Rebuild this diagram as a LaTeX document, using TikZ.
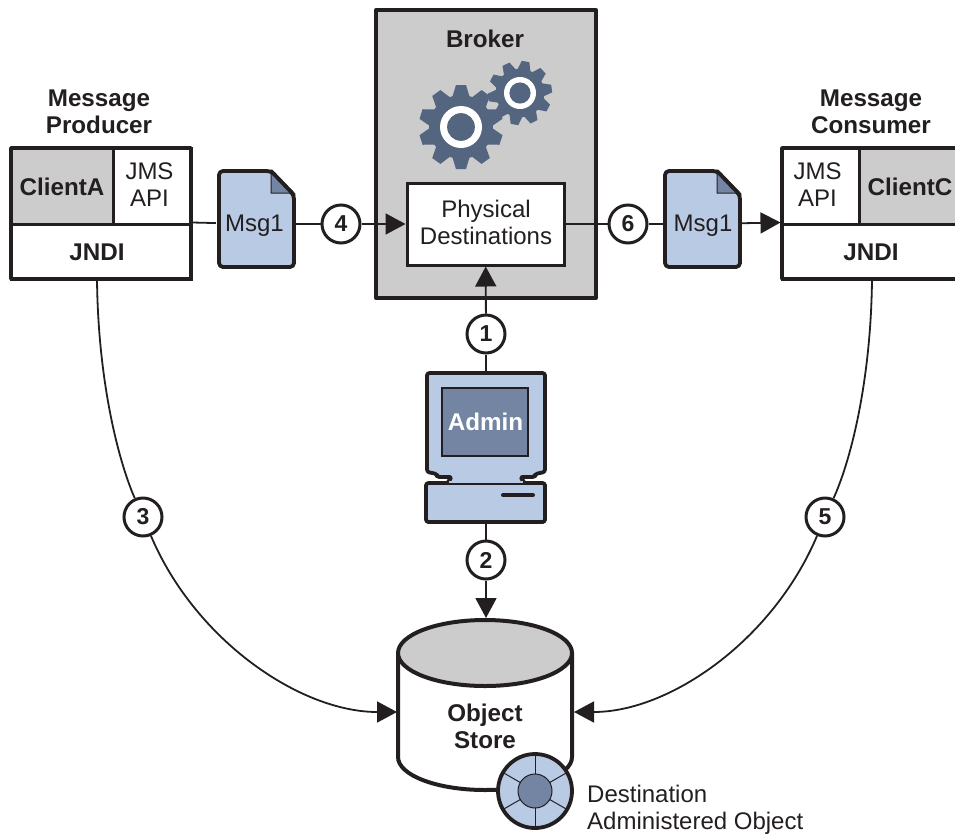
\documentclass[tikz,border=0pt]{standalone}
\usepackage{fontspec}
\setmainfont{Liberation Sans}
\usetikzlibrary{arrows.meta}
\definecolor{inkBlack}{HTML}{231F20}
\definecolor{paleGray}{HTML}{CCCCCC}
\definecolor{paleBlue}{HTML}{B9CBE4}
\definecolor{midBlue}{HTML}{7385A2}
\definecolor{gearBlue}{HTML}{54657F}
\begin{document}
\begin{tikzpicture}
[x=1pt,y=-1pt,%
  heavyLine/.style={line width=3.8pt,draw=inkBlack,line join=round},%
  thinLine/.style={line width=1.8pt,draw=inkBlack},%
  flowLine/.style={thinLine,-{Triangle[length=20pt,width=21pt]},inkBlack},%
  boxText/.style={text=inkBlack,align=center,font=\fontsize{24}{27}\selectfont,inner sep=0pt},%
  boldText/.style={boxText,font=\fontsize{24.2}{27}\selectfont\bfseries},%
  partBox/.style={draw=inkBlack,line width=3pt,minimum width=#1,inner sep=0pt},%
  stepMark/.style={draw=inkBlack,fill=white,circle,minimum size=38pt,inner sep=0pt,
    font=\fontsize{23}{26}\selectfont\bfseries,line width=3pt,text=inkBlack},%
  msgSheet/.style={heavyLine,fill=paleBlue,rounded corners=4pt}]
\useasboundingbox (0,0) rectangle (955,833);
%% broker
\draw[heavyLine,fill=paleGray,line width=4pt] (376,10) rectangle (596,298);
\node[boldText] (brokerLabel) at (485,39) {Broker};
\foreach \cx/\cy/\rr/\tilt in {461/127/42/18, 520/93/32/8}
{
  \foreach \a in {0,36,...,324}
  {
    \fill[gearBlue,shift={(\cx,\cy)},rotate=\a+\tilt]
      (0.7*\rr,-0.21*\rr) -- (\rr,-0.12*\rr) -- (\rr,0.12*\rr) -- (0.7*\rr,0.21*\rr) -- cycle;
  }
  \fill[gearBlue] (\cx,\cy) circle (0.76*\rr);
  \fill[white] (\cx,\cy) circle (0.5*\rr);
  \fill[gearBlue] (\cx,\cy) circle (0.33*\rr);
}
\node[partBox=157pt,fill=white,minimum height=82pt] (physical) at (485.5,224) {};
\node[boxText] (physicalLabel) at (486,222.5) {Physical\\Destinations};
%% producer and consumer
\node[partBox=102pt,fill=paleGray,minimum height=76pt] (clientA) at (62,186) {};
\node[partBox=78pt,fill=white,minimum height=76pt] (jmsA) at (152,186) {};
\node[partBox=180pt,fill=white,minimum height=55pt] (jndiA) at (101,251.5) {};
\draw[heavyLine] (11,148) rectangle (191,279);
\node[boldText] (clientALabel) at (62,187) {ClientA};
\node[boxText] (jmsALabel) at (149.5,185) {JMS\\API};
\node[boldText] (jndiALabel) at (97,252) {JNDI};
\node[partBox=77pt,fill=white,minimum height=76pt] (jmsC) at (820.5,186) {};
\node[partBox=101pt,fill=paleGray,minimum height=76pt] (clientC) at (909.5,186) {};
\node[partBox=178pt,fill=white,minimum height=55pt] (jndiC) at (871,251.5) {};
\draw[heavyLine] (960,148) -- (782,148) -- (782,279) -- (960,279);
\node[boldText] (clientCLabel) at (910,187) {ClientC};
\node[boxText] (jmsCLabel) at (817.5,185) {JMS\\API};
\node[boldText] (jndiCLabel) at (871,252) {JNDI};
\node[boldText] (producerLabel) at (99,112) {Message\\Producer};
\node[boldText] (consumerLabel) at (871,112) {Message\\Consumer};
%% the two messages
\foreach \msg/\x/\tx in {A/218/254.5, C/664/703}
{
  \draw[msgSheet] (\x+1,171) -- (\x+53,171) -- (\x+76,195) -- (\x+76,267) -- (\x+1,267) -- cycle;
  \draw[fill=midBlue,line width=1pt,draw=inkBlack] (\x+53,171) -- (\x+53,193) -- (\x+76,193) -- cycle;
  \draw[heavyLine,line cap=round] (\x+53,171) -- (\x+76,195);
  \node[boxText,text height=16.5pt,text depth=2pt,minimum width=77pt,minimum height=88pt] (msg\msg) at (\tx,224) {Msg1};
}
%% admin machine
\draw[heavyLine,fill=paleBlue,rounded corners=2.5pt] (427,373) -- (545,373) -- (545,472) -- (535,474) -- (535,477) -- (520,477)
  -- (525,483) -- (447,483) -- (452,477) -- (437,477) -- (437,474) -- (427,472) -- cycle;
\draw[fill=midBlue,line width=2pt,draw=inkBlack] (442,388) rectangle (528,456);
\node[boldText,text=white] (adminLabel) at (485.5,422) {Admin};
\draw[heavyLine,fill=paleBlue,rounded corners=2.5pt] (426,483) rectangle (545,522);
\fill[paleBlue] (449,481) rectangle (523,484);
\draw[inkBlack,line width=1pt] (447,483.5) -- (525,483.5);
\draw[inkBlack,line width=4pt,line cap=round] (503,495) -- (533,495);
\coordinate (adminTop) at (486,372);
\coordinate (adminBottom) at (486,523);
%% object store
\draw[heavyLine,fill=white,line width=4pt] (398,653) -- (398,757) arc[start angle=180,end angle=0,x radius=87,y radius=33] -- (572,653) -- cycle;
\draw[heavyLine,fill=paleGray,line width=4pt] (485,653) ellipse [x radius=87,y radius=33];
\node[boldText] (store) at (485,726) {Object\\Store};
\coordinate (storeTop) at (486,618);
\coordinate (storeWest) at (397,712);
\coordinate (storeEast) at (574,712);
\draw[heavyLine,fill=paleBlue] (535,791) circle (37);
\foreach \a in {30,90,...,330}
{
  \draw[inkBlack,line width=1pt,shift={(535,791)}] (\a:17) -- (\a:37);
}
\draw[thinLine,fill=midBlue,line width=1pt] (535,791) circle (17);
\node[boxText,align=left,anchor=west] (destLabel) at (587,810) {Destination\\Administered Object};
%% numbered steps
\node[stepMark] (one) at (486,334) {1};
\node[stepMark] (two) at (486,560) {2};
\node[stepMark] (three) at (143,517) {3};
\node[stepMark] (four) at (341,224) {4};
\node[stepMark] (five) at (825,517) {5};
\node[stepMark] (six) at (628,224) {6};
%% connectors
\draw[thinLine] (jndiA.north east) -- (msgA);
\draw[thinLine] (msgA) -- (four);
\draw[flowLine] (four) -- (physical);
\draw[thinLine] (physical) -- (six);
\draw[thinLine] (six) -- (msgC);
\draw[flowLine] (msgC) -- (jndiC.north west);
\draw[thinLine] (adminTop) -- (one);
\draw[flowLine] (one) -- (physical);
\draw[thinLine] (adminBottom) -- (two);
\draw[flowLine] (two) -- (storeTop);
\draw[thinLine] (97,279) .. controls (98,380) and (118,460) .. (three);
\draw[flowLine] (three) .. controls (195,640) and (300,712) .. (storeWest);
\draw[thinLine] (872,279) .. controls (871,380) and (851,460) .. (five);
\draw[flowLine] (five) .. controls (773,640) and (670,712) .. (storeEast);
\end{tikzpicture}
\end{document}
